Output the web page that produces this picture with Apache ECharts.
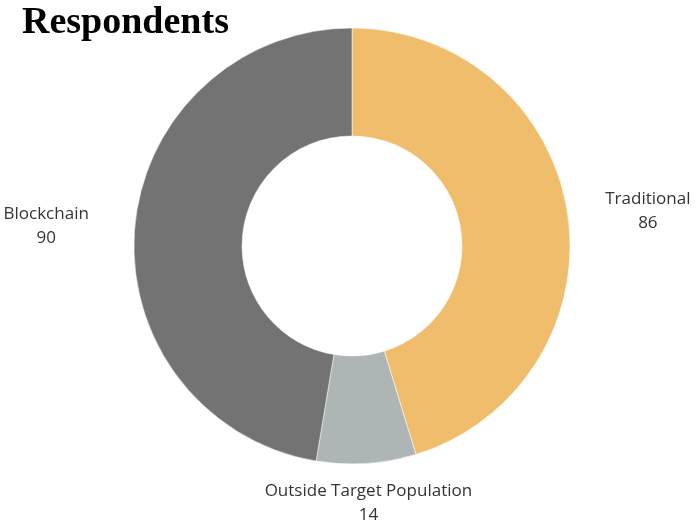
<!DOCTYPE html>
<html>
<head>
<meta charset="utf-8">
<script src="https://cdn.jsdelivr.net/npm/echarts@6/dist/echarts.min.js"></script>
<style>
  html, body { margin: 0; padding: 0; background: #ffffff; }
  #chart { width: 697px; height: 524px; }
</style>
</head>
<body>
<div id="chart"></div>
<script>
// Respondent groups and their counts
const categories = ['Traditional', 'Outside Target Population', 'Blockchain'];
const counts = [86, 14, 90];
const colors = ['#F0BD6D', '#AEB5B5', '#737373'];

// Small nudges to the default outside label placement, per slice
const labelNudges = [
  { dx: 3, dy: 2 },
  { dx: -5, dy: 10, align: 'center' },
  { dx: -11, dy: 1 }
];

const chart = echarts.init(document.getElementById('chart'));

chart.setOption({
  animation: false,
  title: {
    text: 'Respondents',
    left: 17,
    top: -1,
    textStyle: {
      fontFamily: 'Liberation Serif',
      fontWeight: 'bold',
      fontSize: 38,
      color: '#000000'
    }
  },
  series: [{
    type: 'pie',
    center: [352, 246],
    radius: [110, 218],
    startAngle: 90,
    clockwise: true,
    avoidLabelOverlap: false,
    itemStyle: { borderColor: '#ffffff', borderWidth: 0.5 },
    label: {
      show: true,
      position: 'outside',
      formatter: p => '{a|' + p.name + '}\n{a|' + p.value + '}',
      rich: {
        a: {
          align: 'center',
          fontFamily: 'Open Sans',
          fontSize: 17,
          lineHeight: 24,
          color: '#333333'
        }
      }
    },
    labelLine: { show: false, length: 30, length2: 0 },
    labelLayout: params => {
      const n = labelNudges[params.dataIndex];
      const out = {
        x: params.labelRect.x + (params.align === 'right' ? params.labelRect.width : 0) + n.dx,
        y: params.labelRect.y + params.labelRect.height / 2 + n.dy,
        verticalAlign: 'middle'
      };
      if (n.align) out.align = n.align;
      return out;
    },
    data: categories.map((name, i) => ({
      name: name,
      value: counts[i],
      itemStyle: { color: colors[i] }
    }))
  }]
});
</script>
</body>
</html>
